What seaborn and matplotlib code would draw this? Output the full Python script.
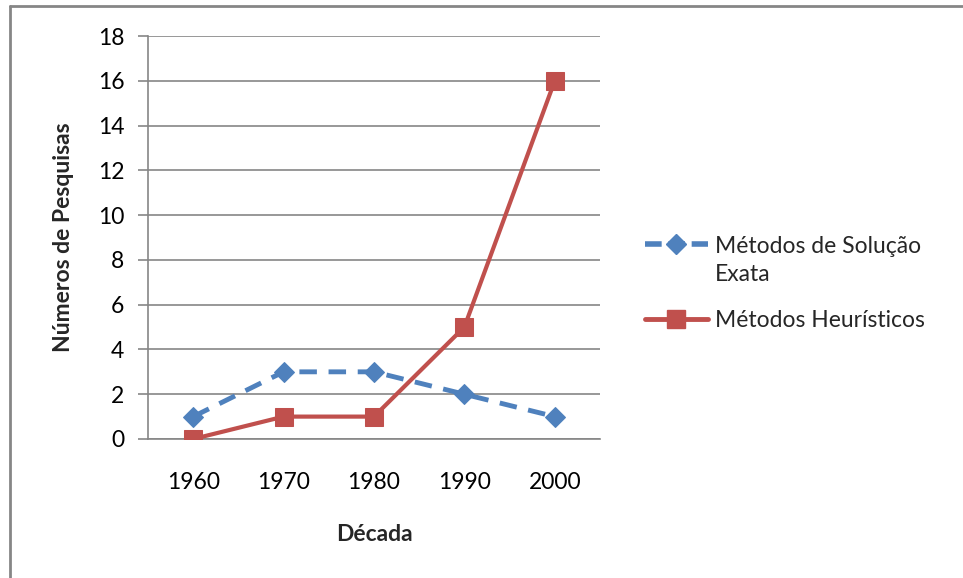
import matplotlib
matplotlib.use("Agg")
import matplotlib.pyplot as plt
from matplotlib.lines import Line2D
from matplotlib.legend_handler import HandlerLine2D
import seaborn as sns
import pandas as pd

decadas = ["1960", "1970", "1980", "1990", "2000"]
exata = [1, 3, 3, 2, 1]
heuristicos = [0, 1, 1, 5, 16]
y_ticks = [0, 2, 4, 6, 8, 10, 12, 14, 16, 18]

nome_exata = "Métodos de Solução\nExata"
nome_heur = "Métodos Heurísticos"

azul = "#4F81BD"
vermelho = "#C0504D"
cinza = "#868686"
fs = 16.5

sns.set_theme(style="white")
plt.rcParams["font.family"] = ["Lato", "DejaVu Sans"]


class HandlerPrimeiraLinha(HandlerLine2D):
    """Places the legend handle level with the first line of a two-line label."""

    def __init__(self, shift, **kw):
        super().__init__(**kw)
        self.shift = shift

    def create_artists(self, legend, orig_handle, xdescent, ydescent,
                       width, height, fontsize, trans):
        artists = super().create_artists(legend, orig_handle, xdescent, ydescent,
                                         width, height, fontsize, trans)
        for a in artists:
            a.set_ydata([y + self.shift * fontsize for y in a.get_ydata()])
        return artists


df = pd.DataFrame({"pos": range(len(decadas)), "exata": exata, "heur": heuristicos})

fig = plt.figure(figsize=(9.63, 5.78), dpi=100)
ax = fig.add_axes([0.1537, 0.2405, 0.4693, 0.6972])

sns.lineplot(data=df, x="pos", y="exata", ax=ax, color=azul, linewidth=3.5,
             marker="D", markersize=10.5, markeredgecolor=azul, zorder=3)
ax.lines[-1].set_dashes((3.6, 2.4))
sns.lineplot(data=df, x="pos", y="heur", ax=ax, color=vermelho, linewidth=3.0,
             marker="s", markersize=13, markeredgecolor=vermelho, zorder=4)

ax.set_xlim(-0.5, len(decadas) - 0.5)
ax.set_ylim(0, 18)
ax.set_yticks(y_ticks)
ax.set_xticks(range(len(decadas)))
ax.set_xticklabels(decadas)
ax.yaxis.grid(True, color=cinza, linewidth=1.2)
ax.set_axisbelow(True)
for s in ["top", "right"]:
    ax.spines[s].set_visible(False)
for s in ["left", "bottom"]:
    ax.spines[s].set_color(cinza)
    ax.spines[s].set_linewidth(1.2)
ax.tick_params(axis="y", which="both", left=True, length=7, width=1.2,
               color=cinza, labelsize=fs, pad=10, labelcolor="black")
ax.tick_params(axis="x", bottom=False, labelsize=fs, pad=18, labelcolor="black")
ax.set_xlabel("Década", fontsize=fs, fontweight="bold", labelpad=22)
ax.set_ylabel("Números de Pesquisas", fontsize=fs, fontweight="bold", labelpad=17)

h_exata = Line2D([], [], color=azul, linewidth=4, dashes=(3, 1.2), marker="D",
                 markersize=10.5, markeredgecolor=azul)
h_heur = Line2D([], [], color=vermelho, linewidth=3.5, marker="s", markersize=13,
                markeredgecolor=vermelho)
leg = fig.legend([h_exata, h_heur], [nome_exata, nome_heur], loc="upper left",
                 bbox_to_anchor=(0.648, 0.628), frameon=False, fontsize=fs,
                 handlelength=2.75, handletextpad=0.3, labelspacing=1.1,
                 handler_map={h_exata: HandlerPrimeiraLinha(0.75)})
for t in leg.get_texts():
    t.set_linespacing(1.45)

# moldura do gráfico
fig.add_artist(Line2D([0.0104, 1.0], [0.9896, 0.9896], color=cinza, linewidth=2.0,
                      transform=fig.transFigure))
fig.add_artist(Line2D([0.0104, 0.0104], [0.0, 0.9896], color=cinza, linewidth=2.0,
                      transform=fig.transFigure))

fig.savefig("out.png", dpi=100)
